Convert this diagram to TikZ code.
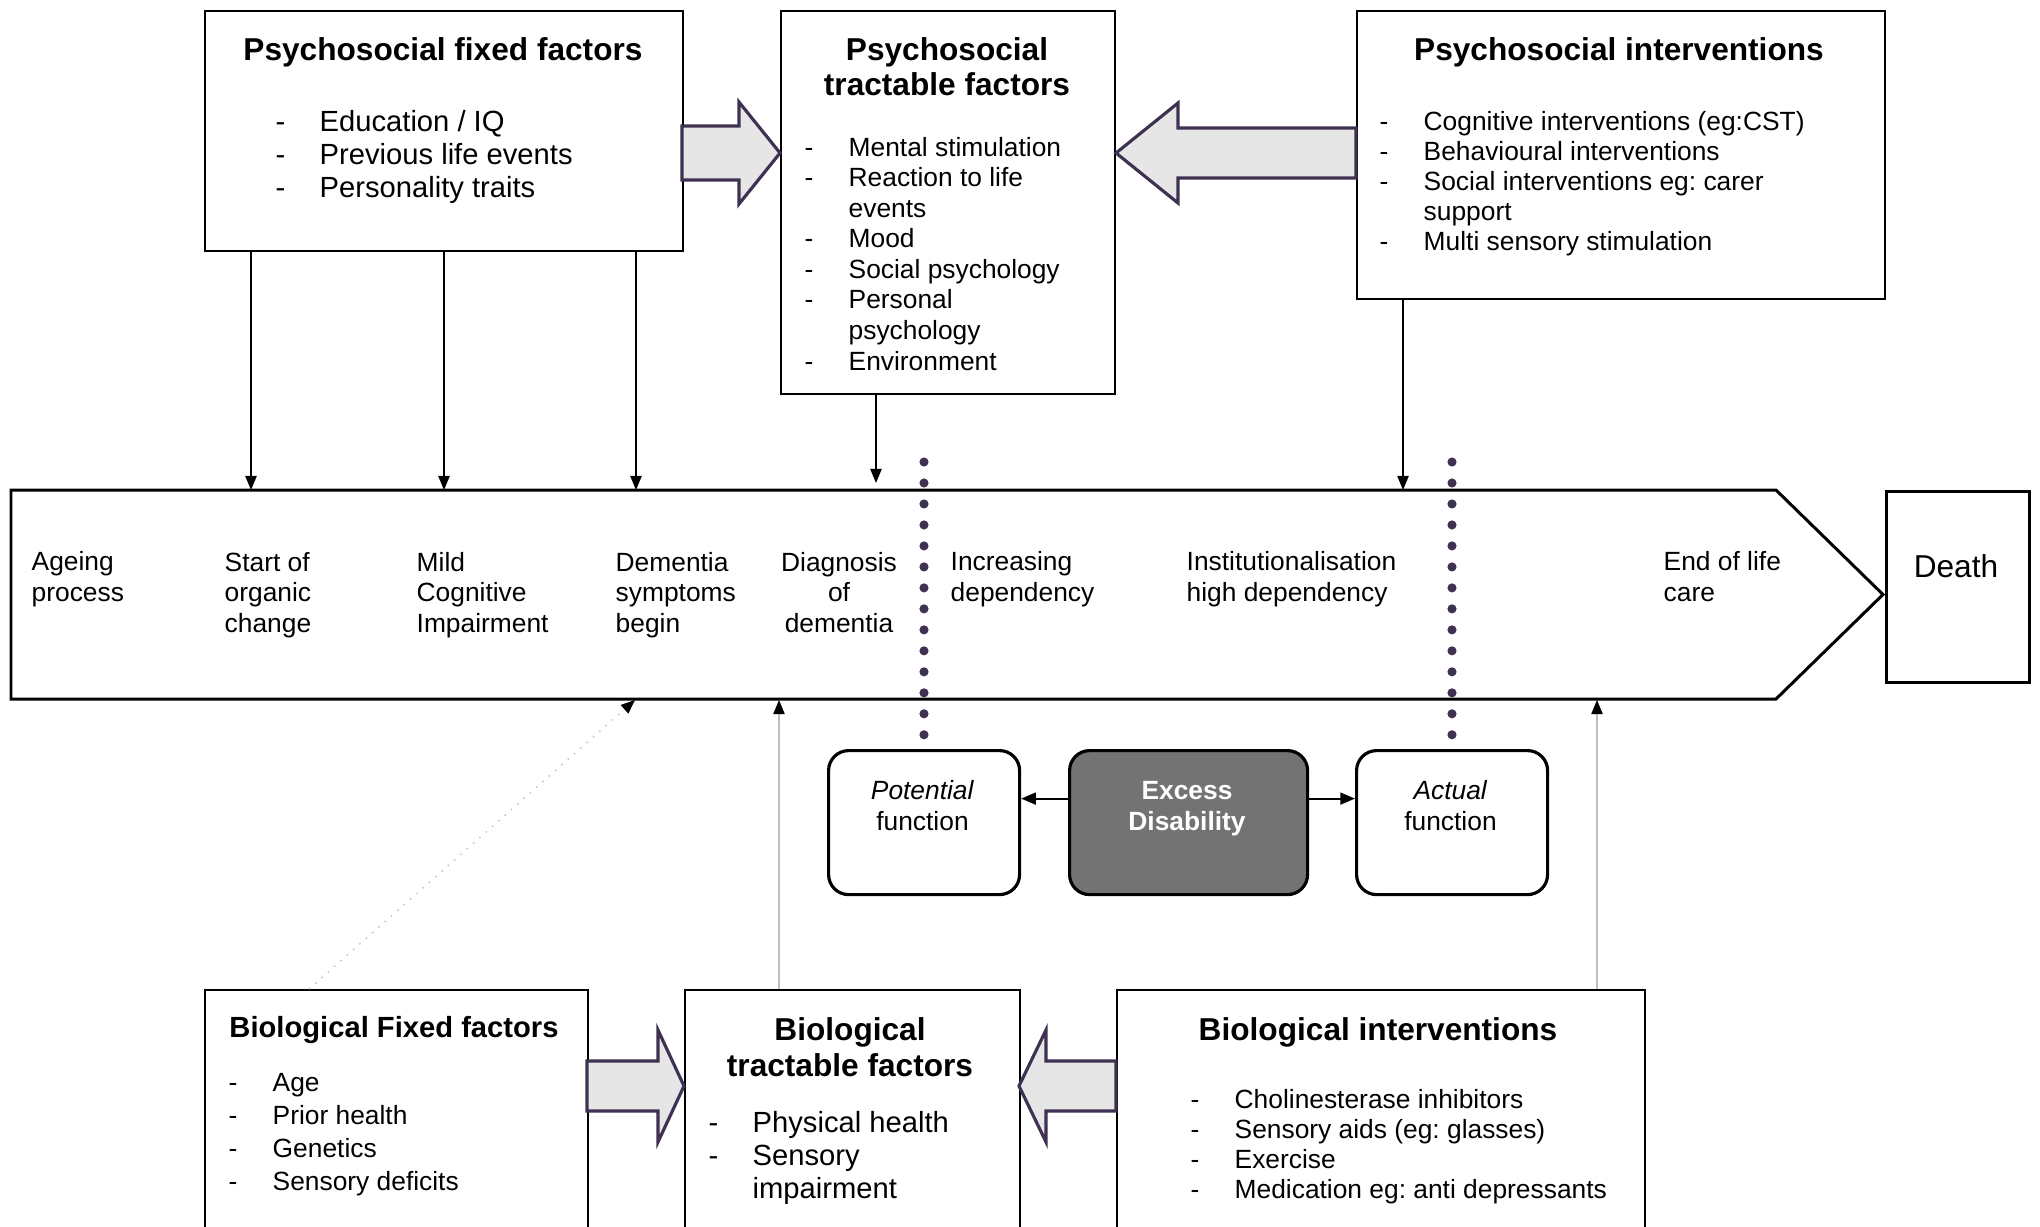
\documentclass[tikz,border=0pt]{standalone}
\usepackage{fontspec}
\setmainfont{Liberation Sans}
\usetikzlibrary{arrows.meta}
\frenchspacing

\definecolor{plum}{HTML}{3F3151}
\definecolor{fatfill}{HTML}{E6E6E6}
\definecolor{excess}{HTML}{737373}
\definecolor{faint}{HTML}{BFBFBF}

% block arrow: tail x, head base x, tip x, centre y, shaft half, head half
\newcommand\fatarrow[6]{%
  \draw[fat] (#1,#4+#5) -- (#2,#4+#5) -- (#2,#4+#6) -- (#3,#4)
    -- (#2,#4-#6) -- (#2,#4-#5) -- (#1,#4-#5) -- cycle;}
\newcommand\li{\makebox[0.44cm][l]{-}}
\newcommand\lc{\hspace*{0.44cm}}

\begin{document}
\begin{tikzpicture}[
		box/.style={draw, line width=0.6pt, anchor=north west, inner sep=0pt},
		rbox/.style={draw, line width=0.9pt, rounded corners=0.2cm, anchor=north west, inner sep=0pt, minimum width=1.91cm, minimum height=1.44cm},
		title/.style={font=\fontsize{9}{10}\selectfont\bfseries, align=center, anchor=base, inner sep=0pt},
		list/.style={align=left, anchor=base west, inner sep=0pt},
		stage/.style={font=\fontsize{7.5}{8.8}\selectfont, align=left, anchor=base west, inner sep=0pt},
		down/.style={-{Triangle[length=4pt,width=3.2pt]}, line width=0.45pt},
		side/.style={-{Triangle[length=4.2pt,width=3.4pt]}, line width=0.6pt},
		up/.style={faint, line width=0.4pt, -{Triangle[length=4pt,width=3.2pt,black]}},
		fat/.style={draw=plum, fill=fatfill, line width=0.9pt},
		dots/.style={plum, line width=2.6pt, line cap=round, dash pattern=on 0pt off 5.97pt}]
		
		\useasboundingbox (0,0) rectangle (20.40,-12.26);
		
		% psychosocial boxes (text nodes sit on their last baseline)
		\node[box, minimum width=4.78cm, minimum height=2.40cm] (pff) at (2.04,-0.10) {};
		\node[box, minimum width=3.34cm, minimum height=3.83cm] (ptf) at (7.80,-0.10) {};
		\node[box, minimum width=5.28cm, minimum height=2.88cm] (psi) at (13.56,-0.10) {};
		
		\node[title] (pfft) at (4.43,-0.60) {Psychosocial fixed factors};
		\node[title] (ptft) at (9.47,-0.952) {Psychosocial\\tractable factors};
		\node[title] (psit) at (16.19,-0.60) {Psychosocial interventions};
		
		\node[list, font=\fontsize{8.3}{9.4}\selectfont] (pffl) at (2.75,-1.971)
		{\li Education / IQ\\ \li Previous life events\\ \li Personality traits};
		\node[list, font=\fontsize{7.5}{8.7}\selectfont] (ptfl) at (8.04,-3.701)
		{\li Mental stimulation\\ \li Reaction to life\\ \lc events\\ \li Mood\\ \li Social psychology\\ \li Personal\\ \lc psychology\\ \li Environment};
		\node[list, font=\fontsize{7.5}{8.6}\selectfont] (psil) at (13.79,-2.509)
		{\li Cognitive interventions (eg:CST)\\ \li Behavioural interventions\\ \li Social interventions eg: carer\\ \lc support\\ \li Multi sensory stimulation};
		
		\fatarrow{6.82}{7.39}{7.80}{-1.53}{0.27}{0.51}
		\fatarrow{13.56}{11.78}{11.16}{-1.53}{0.25}{0.50}
		
		% timeline
		\draw[line width=0.85pt] (0.11,-4.90) -- (17.76,-4.90) -- (18.83,-5.945) -- (17.76,-6.99) -- (0.11,-6.99) -- cycle;
		\node[box, line width=0.85pt, minimum width=1.43cm, minimum height=1.91cm] (death) at (18.85,-4.90) {};
		\node[font=\fontsize{9}{10}\selectfont, anchor=base, inner sep=0pt] (deatht) at (19.56,-5.77) {Death};
		
		\node[stage] (s1) at (0.31,-6.019) {Ageing\\process};
		\node[stage] (s2) at (2.24,-6.329) {Start of\\organic\\change};
		\node[stage] (s3) at (4.16,-6.329) {Mild\\Cognitive\\Impairment};
		\node[stage] (s4) at (6.15,-6.329) {Dementia\\symptoms\\begin};
		\node[stage, align=center, anchor=base] (s5) at (8.39,-6.329) {Diagnosis\\of\\dementia};
		\node[stage] (s6) at (9.50,-6.019) {Increasing\\dependency};
		\node[stage] (s7) at (11.86,-6.019) {Institutionalisation\\high dependency};
		\node[stage] (s8) at (16.63,-6.019) {End of life\\care};
		
		\coordinate (t1) at (2.51,-4.90);
		\coordinate (t2) at (4.44,-4.90);
		\coordinate (t3) at (6.36,-4.90);
		\coordinate (t4) at (8.76,-4.83);
		\coordinate (t5) at (14.03,-4.90);
		\coordinate (b1) at (6.35,-7.00);
		\coordinate (b2) at (7.79,-7.00);
		\coordinate (b3) at (15.97,-7.00);
		
		\draw[down] (pff.south -| t1) -- (t1);
		\draw[down] (pff.south -| t2) -- (t2);
		\draw[down] (pff.south -| t3) -- (t3);
		\draw[down] (ptf.south -| t4) -- (t4);
		\draw[down] (psi.south -| t5) -- (t5);
		
		% function boxes
		\node[rbox] (pot) at (8.27,-7.49) {};
		\node[rbox, fill=excess, minimum width=2.38cm] (exd) at (10.68,-7.49) {};
		\node[rbox] (act) at (13.55,-7.49) {};
		
		\node[stage, align=center, anchor=base] (pott) at (9.225,-8.309) {\textit{Potential}\\function};
		\node[stage, align=center, anchor=base, text=white, font=\fontsize{7.5}{8.8}\selectfont\bfseries] (exdt) at (11.87,-8.309) {Excess\\Disability};
		\node[stage, align=center, anchor=base] (actt) at (14.505,-8.309) {\textit{Actual}\\function};
		
		\draw[side] ([yshift=0.24cm]exd.west) -- ([yshift=0.24cm]pot.east);
		\draw[side] ([yshift=0.24cm]exd.east) -- ([yshift=0.24cm]act.west);
		
		\coordinate (d1) at (9.24,-4.62);
		\coordinate (d2) at (14.52,-4.62);
		\draw[dots] (d1) -- (d1 |- pot.north);
		\draw[dots] (d2) -- (d2 |- act.north);
		
		% biological boxes
		\node[box, minimum width=3.83cm, minimum height=2.60cm] (bff) at (2.04,-9.89) {};
		\node[box, minimum width=3.35cm, minimum height=2.60cm] (btf) at (6.84,-9.89) {};
		\node[box, minimum width=5.28cm, minimum height=2.60cm] (bif) at (11.16,-9.89) {};
		
		\node[title, font=\fontsize{8.3}{9.4}\selectfont\bfseries] (bfft) at (3.94,-10.37) {Biological Fixed factors};
		\node[title, font=\fontsize{9}{10.5}\selectfont\bfseries] (btft) at (8.50,-10.769) {Biological\\tractable factors};
		\node[title] (bift) at (13.78,-10.40) {Biological interventions};
		
		\node[list, font=\fontsize{7.5}{9.4}\selectfont] (bffl) at (2.28,-11.901)
		{\li Age\\ \li Prior health\\ \li Genetics\\ \li Sensory deficits};
		\node[list, font=\fontsize{8.3}{9.5}\selectfont] (btfl) at (7.08,-11.988)
		{\li Physical health\\ \li Sensory\\ \lc impairment};
		\node[list, font=\fontsize{7.5}{8.6}\selectfont] (bifl) at (11.90,-11.987)
		{\li Cholinesterase inhibitors\\ \li Sensory aids (eg: glasses)\\ \li Exercise\\ \li Medication eg: anti depressants};
		
		\fatarrow{5.87}{6.58}{6.84}{-10.86}{0.25}{0.56}
		\fatarrow{11.16}{10.46}{10.19}{-10.86}{0.25}{0.56}
		
		\draw[up, dotted] ([xshift=1.05cm]bff.north west) -- (b1);
		\draw[up] (btf.north -| b2) -- (b2);
		\draw[up] (bif.north -| b3) -- (b3);
		\end{tikzpicture}
\end{document}
